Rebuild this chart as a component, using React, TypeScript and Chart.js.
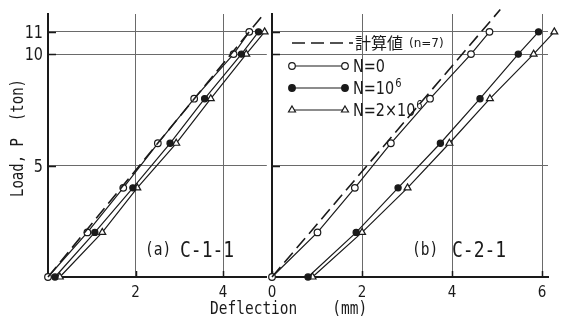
import React, { useEffect, useRef } from "react";
import { Chart, registerables } from "chart.js";
Chart.register(...registerables);

// ---- data ----
const loads = [0, 2, 4, 6, 8, 10, 11];
// panel (a) C-1-1 deflections (mm)
const aN0 = [0, 0.9, 1.72, 2.51, 3.34, 4.24, 4.6];
const aN1e6 = [0.16, 1.07, 1.94, 2.79, 3.58, 4.42, 4.81];
const aN2e6 = [0.27, 1.24, 2.04, 2.93, 3.72, 4.53, 4.95];
const aCalcDefl = [0, 4.89];
const aCalcLoad = [0, 11.7];
// panel (b) C-2-1 deflections (mm)
const bN0 = [0, 1.01, 1.84, 2.64, 3.51, 4.42, 4.83];
const bN1e6 = [0.8, 1.87, 2.8, 3.74, 4.62, 5.47, 5.92];
const bN2e6 = [0.9, 2.0, 3.01, 3.94, 4.84, 5.81, 6.27];
const bCalcDefl = [0, 5.07];
const bCalcLoad = [0, 12.0];

const yTicks = [5, 10, 11];
const aXTicks = [2, 4];
const bXTicks = [0, 2, 4, 6];

const calcLabelMain = "計算値";
const calcLabelSub = "(n=7)";
const seriesLabels = ["N=0", "N=10", "N=2×10"];
const seriesSup = ["", "6", "6"];
const panelTags = ["(a)", "(b)"];
const panelNames = ["C-1-1", "C-2-1"];
const yTitle = "Load, P  (ton)";
const xTitle = "Deflection    (mm)";

const INK = "#1a1a1a";
const GRID = "#6a6a6a";
const MONO = '"DejaVu Sans Mono", "Liberation Mono", monospace';
const SANS = '"Liberation Sans Narrow", "DejaVu Sans Condensed", "DejaVu Sans", sans-serif';

function zip(xs: number[], ys: number[]) {
  return xs.map((x, i) => ({ x, y: ys[i] }));
}

function txt(ctx: CanvasRenderingContext2D, s: string, x: number, y: number, size: number, o: any = {}) {
  ctx.save();
  ctx.font = `${size}px ${o.family || MONO}`;
  ctx.fillStyle = INK;
  ctx.textAlign = o.align || "left";
  ctx.textBaseline = o.baseline || "alphabetic";
  ctx.translate(x, y);
  if (o.rotate) ctx.rotate(o.rotate);
  ctx.scale(1, o.sy ?? 1.15);
  ctx.fillText(s, 0, 0);
  const w = ctx.measureText(s).width;
  ctx.restore();
  return w;
}

function marker(ctx: CanvasRenderingContext2D, kind: number, x: number, y: number) {
  ctx.save();
  ctx.strokeStyle = INK;
  ctx.lineWidth = 1.2;
  ctx.beginPath();
  if (kind === 2) {
    const r = 4;
    ctx.moveTo(x, y - r);
    ctx.lineTo(x + r * 0.87, y + r * 0.5);
    ctx.lineTo(x - r * 0.87, y + r * 0.5);
    ctx.closePath();
    ctx.fillStyle = "#fff";
  } else {
    ctx.arc(x, y, 3.3, 0, Math.PI * 2);
    ctx.fillStyle = kind === 1 ? INK : "#fff";
  }
  ctx.fill();
  ctx.stroke();
  ctx.restore();
}

function makeConfig(isA: boolean): any {
  const n0 = isA ? aN0 : bN0;
  const n1 = isA ? aN1e6 : bN1e6;
  const n2 = isA ? aN2e6 : bN2e6;
  const cd = isA ? aCalcDefl : bCalcDefl;
  const cl = isA ? aCalcLoad : bCalcLoad;
  const xt = isA ? aXTicks : bXTicks;
  const common = {
    showLine: true,
    borderColor: INK,
    borderWidth: 1.2,
    pointBorderColor: INK,
    pointBorderWidth: 1.2,
    clip: false,
  };
  const textPlugin = {
    id: "texts" + (isA ? "a" : "b"),
    beforeDatasetsDraw(chart: any) {
      // inward tick marks
      const ctx = chart.ctx as CanvasRenderingContext2D;
      const { left, bottom } = chart.chartArea;
      const xs = chart.scales.x;
      const ys = chart.scales.y;
      ctx.save();
      ctx.strokeStyle = INK;
      ctx.lineWidth = 1.5;
      ctx.beginPath();
      xt.forEach((v) => {
        const p = Math.round(xs.getPixelForValue(v)) + 0.5;
        ctx.moveTo(p, bottom);
        ctx.lineTo(p, bottom - 6);
      });
      yTicks.forEach((v) => {
        const p = Math.round(ys.getPixelForValue(v)) + 0.5;
        ctx.moveTo(left, p);
        ctx.lineTo(left + 8, p);
      });
      ctx.stroke();
      ctx.restore();
    },
    afterDatasetsDraw(chart: any) {
      // points lying just outside the plot frame (library elements, drawn unclipped)
      const ca = chart.chartArea;
      const big = { left: -1e4, top: -1e4, right: 1e4, bottom: 1e4 };
      chart.data.datasets.forEach((_d: any, i: number) => {
        const meta = chart.getDatasetMeta(i);
        meta.data.forEach((el: any) => {
          if (el.x > ca.right + 2 || el.y < ca.top - 2) el.draw(chart.ctx, big);
        });
      });
    },
    afterDraw(chart: any) {
      const ctx = chart.ctx as CanvasRenderingContext2D;
      const { left, top, bottom } = chart.chartArea;
      const xs = chart.scales.x;
      const ys = chart.scales.y;
      xt.forEach((v) => {
        txt(ctx, String(v), xs.getPixelForValue(v), bottom + 20, 15, { align: "center", family: SANS, sy: 1.05 });
      });
      if (isA) {
        yTicks.forEach((v) => {
          txt(ctx, String(v), left - 5, ys.getPixelForValue(v) + 6, 16, { align: "right", family: SANS, sy: 1.05 });
        });
        txt(ctx, yTitle, 19, 138, 14, { align: "center", baseline: "middle", rotate: -Math.PI / 2, sy: 1.2 });
      }
      const idx = isA ? 0 : 1;
      txt(ctx, panelTags[idx], left + (isA ? 97 : 140), bottom - 22, 14.5, { sy: 1.25 });
      txt(ctx, panelNames[idx], left + (isA ? 132 : 180), bottom - 20, 18, { sy: 1.2 });
      if (!isA) {
        const x1 = left + 20;
        const x2 = left + 73;
        const tx = left + 81;
        const rows = [top + 29, top + 52, top + 74, top + 96];
        ctx.save();
        ctx.strokeStyle = INK;
        ctx.lineWidth = 1.6;
        ctx.setLineDash([13, 6]);
        ctx.beginPath();
        ctx.moveTo(x1, rows[0]);
        ctx.lineTo(tx, rows[0]);
        ctx.stroke();
        ctx.restore();
        const w = txt(ctx, calcLabelMain, tx + 2, rows[0] + 6, 16, { family: '"Noto Sans CJK JP", sans-serif', sy: 1 });
        txt(ctx, calcLabelSub, tx + 2 + w + 6, rows[0] + 4, 12, { family: '"DejaVu Sans", sans-serif', sy: 1 });
        for (let k = 0; k < 3; k++) {
          const y = rows[k + 1];
          ctx.save();
          ctx.strokeStyle = INK;
          ctx.lineWidth = 1.2;
          ctx.beginPath();
          ctx.moveTo(x1, y);
          ctx.lineTo(x2, y);
          ctx.stroke();
          ctx.restore();
          marker(ctx, k, x1, y);
          marker(ctx, k, x2, y);
          const lw = txt(ctx, seriesLabels[k], tx, y + 6, 16, { family: SANS, sy: 1.05 });
          if (seriesSup[k]) txt(ctx, seriesSup[k], tx + lw + 1, y - 1, 11, { family: SANS, sy: 1.05 });
        }
      }
    },
  };
  return {
    type: "scatter",
    data: {
      datasets: [
        { ...common, data: zip(cd, cl), borderWidth: 1.6, borderDash: [13, 6], pointRadius: 0 },
        { ...common, data: zip(n0, loads), pointStyle: "circle", pointRadius: 3.3, pointBackgroundColor: "#fff" },
        { ...common, data: zip(n1, loads), pointStyle: "circle", pointRadius: 3.1, pointBackgroundColor: INK },
        { ...common, data: zip(n2, loads), pointStyle: "triangle", pointRadius: 4, pointBackgroundColor: "#fff" },
      ],
    },
    options: {
      animation: false,
      responsive: false,
      maintainAspectRatio: false,
      layout: { padding: { top: 14, right: isA ? 0 : 36, left: 0, bottom: 0 } },
      plugins: { legend: { display: false }, tooltip: { enabled: false } },
      scales: {
        x: {
          type: "linear",
          min: 0,
          max: isA ? 5.0 : 6.13,
          afterBuildTicks: (s: any) => {
            s.ticks = xt.map((v) => ({ value: v }));
          },
          afterFit: (s: any) => {
            s.height = 47;
          },
          grid: { color: GRID, lineWidth: 1, drawTicks: false },
          border: { color: INK, width: 2 },
          ticks: { display: false },
        },
        y: {
          type: "linear",
          min: 0,
          max: 11.8,
          afterBuildTicks: (s: any) => {
            s.ticks = yTicks.map((v) => ({ value: v }));
          },
          afterFit: (s: any) => {
            s.width = isA ? 48 : 10;
          },
          grid: { color: GRID, lineWidth: 1, drawTicks: false },
          border: { color: INK, width: 2 },
          ticks: { display: false },
        },
      },
    },
    plugins: [textPlugin],
  };
}

export default function App() {
  const refA = useRef<HTMLCanvasElement>(null);
  const refB = useRef<HTMLCanvasElement>(null);
  useEffect(() => {
    const ca = new Chart(refA.current!, makeConfig(true));
    const cb = new Chart(refB.current!, makeConfig(false));
    return () => {
      ca.destroy();
      cb.destroy();
    };
  }, []);
  return (
    <div style={{ position: "fixed", left: 0, top: 0, width: 584, height: 324, background: "#fff", overflow: "hidden" }}>
      <canvas ref={refA} width={272} height={324} style={{ position: "absolute", left: 0, top: 0, width: 272, height: 324 }} />
      <canvas ref={refB} width={322} height={324} style={{ position: "absolute", left: 262, top: 0, width: 322, height: 324 }} />
      <div
        style={{
          position: "absolute",
          left: 210,
          top: 300,
          fontFamily: MONO,
          fontSize: 14.5,
          lineHeight: "15px",
          whiteSpace: "pre",
          color: INK,
          transform: "scaleY(1.2)",
          transformOrigin: "top left",
        }}
      >
        {xTitle}
      </div>
    </div>
  );
}
